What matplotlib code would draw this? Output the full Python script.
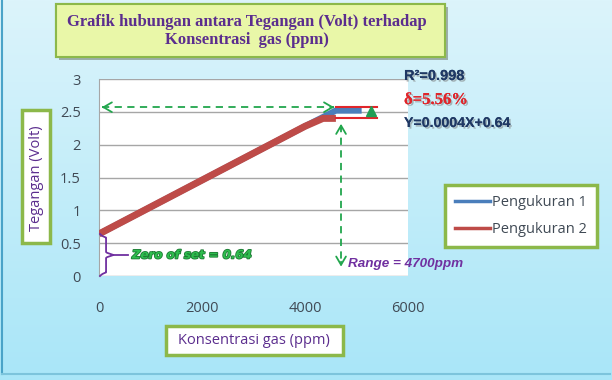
import numpy as np
import matplotlib
matplotlib.use("Agg")
import matplotlib.pyplot as plt
from matplotlib.patches import FancyBboxPatch
from matplotlib.lines import Line2D
from matplotlib.colors import LinearSegmentedColormap
import matplotlib.patheffects as pe

# ---- data ----
x_p2 = [0, 1000, 2000, 3000, 4000, 4350, 4600]
y_p2 = [0.64, 1.05, 1.46, 1.87, 2.28, 2.40, 2.40]
x_p1 = [0, 1000, 2000, 3000, 4000, 4350, 4600, 5100]
y_p1 = [0.64, 1.05, 1.46, 1.87, 2.28, 2.42, 2.52, 2.52]
band_x = [4600, 5400]
band_hi = 2.57
band_lo = 2.40
tri_x, tri_y = 5280, 2.52
range_val = 4700
zero_offset = 0.64
xticks = [0, 2000, 4000, 6000]
yticks = [0, 0.5, 1, 1.5, 2, 2.5, 3]
ytick_labels = ["0", "0.5", "1", "1.5", "2", "2.5", "3"]
series_names = ["Pengukuran 1", "Pengukuran 2"]

W, H = 612, 380
fig = plt.figure(figsize=(W / 100, H / 100), dpi=100)

# background gradient
bg = fig.add_axes([0, 0, 1, 1])
grad = np.linspace(0, 1, 256).reshape(-1, 1)
cmap = LinearSegmentedColormap.from_list("bg", ["#dcf4fb", "#a9e6f8"])
bg.imshow(grad, aspect="auto", cmap=cmap, extent=[0, 1, 0, 1], origin="upper")
bg.set_xlim(0, 1); bg.set_ylim(0, 1)
bg.axis("off")
bg.plot([0.004, 0.004], [0.015, 1], color="#4aa3c8", lw=1.5)
bg.plot([0.004, 0.996], [0.015, 0.015], color="#7cc4dc", lw=1.5)

purple = "#5b2d8e"
green = "#22a64d"

ax = fig.add_axes([99 / W, 1 - 276 / H, 309 / W, 197 / H])
ax.set_facecolor("white")
ax.set_xlim(0, 6000)
ax.set_ylim(0, 3)
ax.set_yticks(yticks)
ax.set_yticklabels(ytick_labels)
ax.set_xticks(xticks)
ax.grid(axis="y", color="#a6a6a6", lw=1)
ax.set_axisbelow(True)
for s in ["top", "right", "bottom"]:
    ax.spines[s].set_visible(False)
ax.spines["left"].set_color("#a6a6a6")
ax.tick_params(length=0, labelsize=10.5, labelcolor="#404a55", pad=13)
ax.tick_params(axis="x", pad=18)
for lab in ax.get_xticklabels() + ax.get_yticklabels():
    lab.set_fontfamily("Open Sans")

# series
ax.plot(x_p1, y_p1, color="#4a7ebb", lw=4.5, solid_capstyle="butt", zorder=3)
ax.plot(x_p2, y_p2, color="#be4b48", lw=5, solid_capstyle="butt", zorder=4)
ax.plot(band_x, [band_hi, band_hi], color="#e0262b", lw=1.5, zorder=5)
ax.plot(band_x, [band_lo, band_lo], color="#e0262b", lw=1.5, zorder=5)
ax.plot([tri_x], [tri_y], marker="^", color="#1f9e55", ms=7, zorder=6)

arrow_kw = dict(arrowstyle="->,head_length=0.6,head_width=0.35", color=green, lw=1.3)
# horizontal dashed arrow
ax.plot([60, 4560], [band_hi, band_hi], color=green, lw=1.3, ls=(0, (4, 3)), zorder=6, clip_on=False)
ax.annotate("", xy=(0, band_hi), xytext=(150, band_hi), arrowprops=arrow_kw, zorder=6)
ax.annotate("", xy=(4620, band_hi), xytext=(4470, band_hi), arrowprops=arrow_kw, zorder=6)
# vertical dashed arrow
ax.plot([range_val, range_val], [2.3, 0.18], color=green, lw=1.3, ls=(0, (4, 3)), zorder=6)
ax.annotate("", xy=(range_val, 2.36), xytext=(range_val, 2.2), arrowprops=arrow_kw, zorder=6)
ax.annotate("", xy=(range_val, 0.1), xytext=(range_val, 0.26), arrowprops=arrow_kw, zorder=6)

# brace for zero offset
bx0 = 20
bw = 260
mid = zero_offset / 2
yy = np.concatenate([np.linspace(0, mid, 30), np.linspace(mid, zero_offset, 30)])
def brace_x(y):
    d = np.abs(y - mid) / mid
    return bx0 + bw * 0.45 * (1 - np.clip((d - 0.85) / 0.15, 0, 1) ** 0.5) + \
        bw * 0.55 * np.clip(1 - d / 0.12, 0, 1)
ax.plot(brace_x(yy), yy, color="#7030a0", lw=1.3, clip_on=False, zorder=6)
ax.plot([bx0 + bw, bx0 + bw + 280], [mid, mid], color="#7030a0", lw=1.3, zorder=6)
ax.text(640, 0.32, "Zero of set = 0.64", color="#2ebd4e", fontsize=8.5, fontweight="bold",
        fontstyle="italic", family="DejaVu Sans", va="center", ha="left", zorder=7,
        path_effects=[pe.withStroke(linewidth=1.2, foreground="#1d7a34")])

ax.text(4830, 0.18, "Range = 4700ppm", color="#7030a0", fontsize=9.7, fontweight="bold",
        fontstyle="italic", family="Liberation Sans", va="center", ha="left", zorder=7,
        clip_on=False)

shadow = [pe.withSimplePatchShadow(offset=(1.2, -1.2), shadow_rgbFace="#777777", alpha=0.5), pe.Normal()]
fig.text(404 / W, 1 - 76 / H, "R²=0.998", color="#1f3864", fontsize=10.5, fontweight="bold",
         family="Liberation Sans", va="center", ha="left", path_effects=shadow)
fig.text(404 / W, 1 - 100 / H, "δ=5.56%", color="#e0262b", fontsize=12, fontweight="bold",
         family="Liberation Serif", va="center", ha="left", path_effects=shadow)
fig.text(404 / W, 1 - 123 / H, "Y=0.0004X+0.64", color="#1f3864", fontsize=10.2, fontweight="bold",
         family="Liberation Sans", va="center", ha="left", path_effects=shadow)

# title box
tb = FancyBboxPatch((56 / W, 1 - 57 / H), 389 / W, 53 / H, boxstyle="square,pad=0",
                    transform=fig.transFigure, facecolor="#e9f7a8", edgecolor="#8cb84a", lw=1.5,
                    path_effects=[pe.withSimplePatchShadow(offset=(2, -2), alpha=0.4), pe.Normal()])
fig.patches.append(tb)
fig.text(247 / W, 1 - 31 / H, "Grafik hubungan antara Tegangan (Volt) terhadap\nKonsentrasi  gas (ppm)",
         ha="center", va="center", color=purple, fontsize=12, fontweight="bold",
         family="Liberation Serif", linespacing=1.2)

# y label box
yb = FancyBboxPatch((22 / W, 1 - 243 / H), 28 / W, 133 / H, boxstyle="square,pad=0",
                    transform=fig.transFigure, facecolor="white", edgecolor="#8cb84a", lw=2.5)
fig.patches.append(yb)
fig.text(36 / W, 1 - 178 / H, "Tegangan (Volt)", rotation=90, ha="center", va="center",
         color=purple, fontsize=10.5, family="Open Sans", rotation_mode="anchor")

# x label box
xb = FancyBboxPatch((166 / W, 1 - 355 / H), 177 / W, 29 / H, boxstyle="square,pad=0",
                    transform=fig.transFigure, facecolor="white", edgecolor="#8cb84a", lw=2.5)
fig.patches.append(xb)
fig.text(254 / W, 1 - 340 / H, "Konsentrasi gas (ppm)", ha="center", va="center",
         color=purple, fontsize=10.5, family="Open Sans")

# legend
handles = [Line2D([], [], color="#4a7ebb", lw=2.5), Line2D([], [], color="#be4b48", lw=2.5)]
leg = fig.legend(handles, series_names, loc="center", bbox_to_anchor=(521 / W, 1 - 216 / H),
                 frameon=True, fancybox=False, edgecolor="#8cb84a", facecolor="white",
                 framealpha=1, handlelength=2.4, handletextpad=0.1, labelspacing=0.85,
                 prop={"family": "Open Sans", "size": 10.5}, borderpad=0.7)
leg.get_frame().set_linewidth(2.5)
for txt in leg.get_texts():
    txt.set_color("#404a55")

fig.savefig("out.png", dpi=100)
